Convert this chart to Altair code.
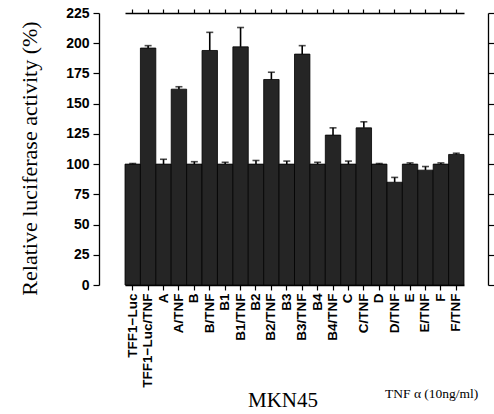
import altair as alt
import pandas as pd

# Constructs and treatments (MKN45 cells, +/- TNF alpha)
labels = ["TFF1\u2212Luc", "TFF1\u2212Luc/TNF", "A", "A/TNF", "B", "B/TNF",
          "B1", "B1/TNF", "B2", "B2/TNF", "B3", "B3/TNF", "B4", "B4/TNF",
          "C", "C/TNF", "D", "D/TNF", "E", "E/TNF", "F", "F/TNF"]
# Relative luciferase activity (%) and its standard error
activity = [100, 196, 100, 162, 100, 194, 100, 197, 100, 170, 100, 191,
            100, 124, 100, 130, 100, 85, 100, 95, 100, 108]
error = [0.5, 2, 4, 2, 2, 15, 1.5, 16, 3, 6, 2.5, 7,
         1.5, 6, 2.5, 5, 0.5, 4, 1, 3, 1, 1]

df = pd.DataFrame({"label": labels, "value": activity, "err": error})
df["hi"] = df["value"] + df["err"]

W, H = 389, 272
ink = "#000000"

# Bars sit in the middle of the frame with empty space on both sides
xscale = alt.Scale(paddingInner=0, paddingOuter=0, range=[26, 365])
yscale = alt.Scale(domain=[0, 225], nice=False, zero=True)

x_bottom = alt.X(
    "label:N", sort=labels, scale=xscale, title=None,
    axis=alt.Axis(orient="bottom", labelAngle=-90, labelFont="Liberation Sans",
                  labelFontWeight="bold", labelFontSize=13.5, labelColor=ink,
                  labelPadding=3, tickSize=5, tickColor=ink, tickWidth=1.2,
                  domainColor=ink, domainWidth=1.3, grid=False),
)
y_left = alt.Y(
    "value:Q", scale=yscale, title="Relative luciferase activity (%)",
    axis=alt.Axis(orient="left", values=list(range(0, 226, 25)),
                  labelFont="Liberation Sans", labelFontWeight="bold",
                  labelFontSize=14, labelColor=ink, labelPadding=4,
                  tickSize=6, tickColor=ink, tickWidth=1.2,
                  domainColor=ink, domainWidth=1.3, grid=False,
                  titleFont="Liberation Serif", titleFontSize=22,
                  titleFontWeight="normal", titleColor=ink,
                  titleAngle=270, titleBaseline="bottom",
                  titleX=-58, titleY=145),
)

base = alt.Chart(df)

bars = base.mark_bar(color="#252525", stroke=ink, strokeWidth=0.8).encode(
    x=x_bottom, y=y_left
)

err_line = base.mark_rule(color=ink, strokeWidth=1.6).encode(
    x=alt.X("label:N", sort=labels, scale=xscale, axis=None),
    y=alt.Y("value:Q", scale=yscale, axis=None),
    y2="hi:Q",
)

err_cap = base.mark_tick(color=ink, thickness=1.6, size=7).encode(
    x=alt.X("label:N", sort=labels, scale=xscale, axis=None),
    y=alt.Y("hi:Q", scale=yscale, axis=None),
)

# Mirrored top and right axes: ticks only
frame = base.mark_point(opacity=0).encode(
    x=alt.X("label:N", sort=labels, scale=xscale, title=None,
            axis=alt.Axis(orient="top", labels=False, tickSize=4,
                          tickColor=ink, tickWidth=1.2, domainColor=ink,
                          domainWidth=1.3, grid=False)),
    y=alt.Y("value:Q", scale=yscale, title=None,
            axis=alt.Axis(orient="right", labels=False,
                          values=list(range(0, 226, 25)), tickSize=6,
                          tickColor=ink, tickWidth=1.2, domainColor=ink,
                          domainWidth=1.3, grid=False)),
)

cell_line = alt.Chart(pd.DataFrame({"t": ["MKN45"]})).mark_text(
    font="Liberation Serif", fontSize=21, color=ink, align="center",
    baseline="middle"
).encode(x=alt.value(184), y=alt.value(388), text="t:N")

treatment = alt.Chart(pd.DataFrame({"t": ["TNF \u03b1 (10ng/ml)"]})).mark_text(
    font="Liberation Serif", fontSize=13.5, color=ink, align="left",
    baseline="middle"
).encode(x=alt.value(286), y=alt.value(381), text="t:N")

chart = (
    alt.layer(bars, err_line, err_cap, frame, cell_line, treatment)
    .resolve_axis(x="independent", y="independent")
    .properties(
        width=W, height=H,
        autosize=alt.AutoSizeParams(type="none"),
        padding={"left": 99, "top": 13, "right": 6, "bottom": 129},
        background="white",
    )
    .configure_view(stroke=None)
)

chart.save("out.html", embed_options={"renderer": "svg", "actions": False})
